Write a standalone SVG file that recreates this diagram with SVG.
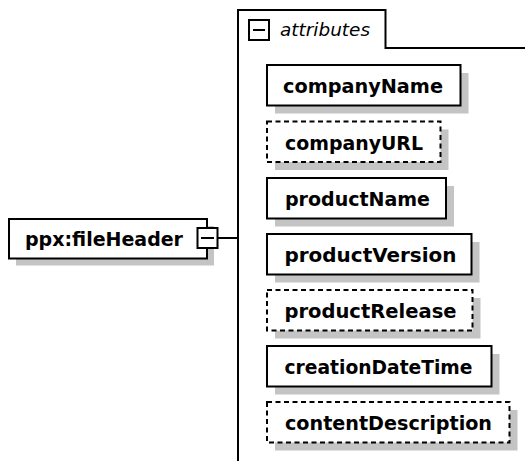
<svg xmlns="http://www.w3.org/2000/svg" width="525" height="461" viewBox="0 0 525 461">
<style>
.shadow{fill:#c4c4c4;stroke:none}
.box{fill:#fff;stroke:#000;stroke-width:2}
.opt{fill:#fff;stroke:#000;stroke-width:2;stroke-dasharray:5 3.5}
.lbl{font-family:"DejaVu Sans","Liberation Sans",sans-serif;font-weight:bold;font-size:19px;fill:#000}
.ital{font-family:"DejaVu Sans","Liberation Sans",sans-serif;font-style:italic;font-size:18px;fill:#000}
.ln{fill:none;stroke:#000;stroke-width:2}
.sq{fill:#fff;stroke:#000;stroke-width:2}
</style>
<rect width="525" height="461" fill="#fff"/>
<g id="connectors">
<path class="ln" d="M217.5,238 H238"/>
</g>
<g id="attributes">
<path class="ln" d="M238,461 V10 H385.5 V48 H525"/>
<rect class="sq" x="249" y="20" width="20" height="20"/>
<path class="ln" d="M253,30 H265"/>
<text class="ital" x="280" y="36" textLength="90" lengthAdjust="spacingAndGlyphs">attributes</text>
</g>
<g id="fileHeader">
<rect class="shadow" x="16" y="226" width="198" height="39.5"/>
<rect class="box" x="9" y="219" width="198" height="39.5"/>
<text class="lbl" x="25" y="246" textLength="158" lengthAdjust="spacingAndGlyphs">ppx:fileHeader</text>
<rect class="sq" x="197.5" y="228" width="20" height="20"/>
<path class="ln" d="M201,238 H214"/>
</g>
<g id="companyName">
<rect class="shadow" x="275" y="73" width="193.5" height="40.5"/>
<rect class="box" x="267" y="65" width="193.5" height="40.5"/>
<text class="lbl" x="283" y="93" textLength="160" lengthAdjust="spacingAndGlyphs">companyName</text>
</g>
<g id="companyURL">
<rect class="shadow" x="275" y="129.5" width="173.5" height="40.5"/>
<rect class="opt" x="267" y="121.5" width="173.5" height="40.5"/>
<text class="lbl" x="285" y="149.5" textLength="138" lengthAdjust="spacingAndGlyphs">companyURL</text>
</g>
<g id="productName">
<rect class="shadow" x="275" y="186" width="179" height="40.5"/>
<rect class="box" x="267" y="178" width="179" height="40.5"/>
<text class="lbl" x="285" y="206" textLength="145" lengthAdjust="spacingAndGlyphs">productName</text>
</g>
<g id="productVersion">
<rect class="shadow" x="275" y="242" width="204.5" height="40.5"/>
<rect class="box" x="267" y="234" width="204.5" height="40.5"/>
<text class="lbl" x="284.5" y="262" textLength="172" lengthAdjust="spacingAndGlyphs">productVersion</text>
</g>
<g id="productRelease">
<rect class="shadow" x="275" y="298" width="205.5" height="40.5"/>
<rect class="opt" x="267" y="290" width="205.5" height="40.5"/>
<text class="lbl" x="284.5" y="318" textLength="172" lengthAdjust="spacingAndGlyphs">productRelease</text>
</g>
<g id="creationDateTime">
<rect class="shadow" x="275" y="354" width="224.5" height="40.5"/>
<rect class="box" x="267" y="346" width="224.5" height="40.5"/>
<text class="lbl" x="284.5" y="374" textLength="188" lengthAdjust="spacingAndGlyphs">creationDateTime</text>
</g>
<g id="contentDescription">
<rect class="shadow" x="275" y="410" width="242.5" height="40.5"/>
<rect class="opt" x="267" y="402" width="242.5" height="40.5"/>
<text class="lbl" x="285" y="430" textLength="207" lengthAdjust="spacingAndGlyphs">contentDescription</text>
</g>
</svg>
